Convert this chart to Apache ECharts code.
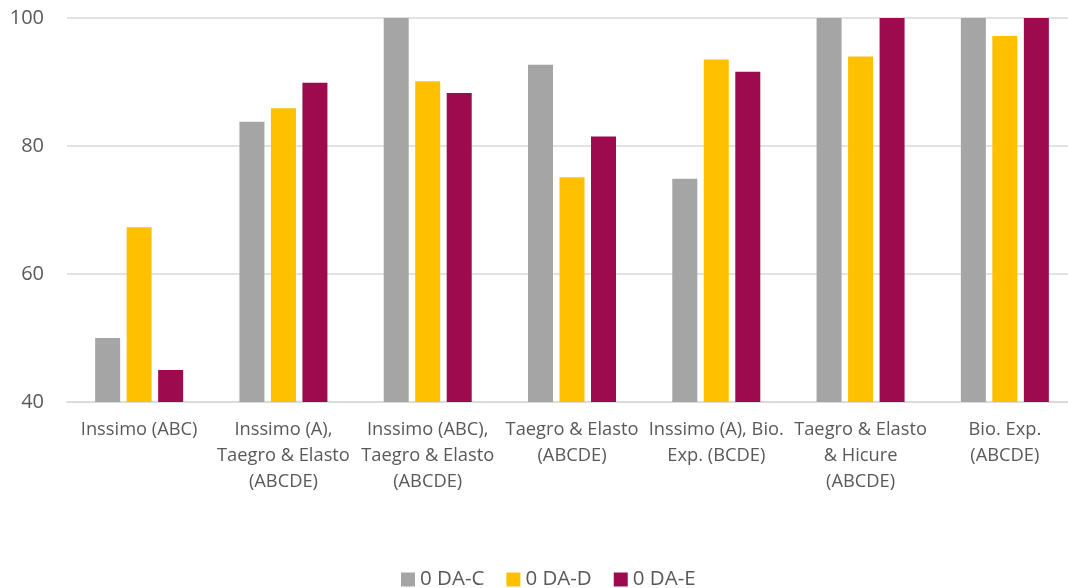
<!DOCTYPE html>
<html>
<head>
<meta charset="utf-8">
<script src="https://cdn.jsdelivr.net/npm/echarts@6/dist/echarts.min.js"></script>
<style>
  html, body { margin: 0; padding: 0; background: #fff; overflow: hidden; }
  /* the reference plot runs a few pixels past the right edge */
  #chart { width: 1077px; height: 588px; }
</style>
</head>
<body>
<div id="chart"></div>
<script>
// categories (line breaks as in the reference)
const categories = [
  'Inssimo (ABC)',
  'Inssimo (A),\nTaegro & Elasto\n(ABCDE)',
  'Inssimo (ABC),\nTaegro & Elasto\n(ABCDE)',
  'Taegro & Elasto\n(ABCDE)',
  'Inssimo (A), Bio.\nExp. (BCDE)',
  'Taegro & Elasto\n& Hicure\n(ABCDE)',
  'Bio. Exp.\n(ABCDE)'
]
const seriesNames = ['0 DA-C', '0 DA-D', '0 DA-E']
const daC = [50, 83.8, 100, 92.7, 74.9, 100, 100]
const daD = [67.3, 85.9, 90.1, 75.1, 93.5, 94, 97.2]
const daE = [45, 89.9, 88.3, 81.5, 91.6, 100, 100]
const yTicks = [40, 60, 80, 100]

const colors = ['#A5A5A5', '#FFC000', '#9E0A4E']
const textColor = '#595959'
const fontFamily = '"Open Sans", "Noto Sans", sans-serif'

const chart = echarts.init(document.getElementById('chart'))

const makeBar = (name, data, color) => ({
  name: name,
  type: 'bar',
  data: data,
  barWidth: 25,
  barGap: '26%',
  itemStyle: { color: color },
  animation: false
})

const option = {
  textStyle: { fontFamily: fontFamily },
  grid: {
    left: 67,
    right: 0,
    top: 18,
    height: 384
  },
  legend: {
    left: 396,
    top: 564,
    itemWidth: 14,
    itemHeight: 14,
    itemGap: 22,
    icon: 'rect',
    textStyle: { color: textColor, fontSize: 20.5, fontFamily: fontFamily },
    data: seriesNames
  },
  xAxis: {
    type: 'category',
    data: categories,
    axisLine: { lineStyle: { color: '#D9D9D9', width: 1.5 } },
    axisTick: { show: false },
    axisLabel: {
      interval: 0,
      color: textColor,
      fontSize: 18.3,
      lineHeight: 26,
      margin: 15,
      fontFamily: fontFamily
    }
  },
  yAxis: {
    type: 'value',
    min: yTicks[0],
    max: yTicks[yTicks.length - 1],
    interval: 20,
    axisLine: { show: false },
    axisTick: { show: false },
    axisLabel: {
      color: textColor,
      fontSize: 20,
      margin: 23,
      fontFamily: fontFamily
    },
    splitLine: { lineStyle: { color: '#D9D9D9', width: 1.5 } }
  },
  series: [
    makeBar(seriesNames[0], daC, colors[0]),
    makeBar(seriesNames[1], daD, colors[1]),
    makeBar(seriesNames[2], daE, colors[2])
  ]
}

chart.setOption(option)
</script>
</body>
</html>
